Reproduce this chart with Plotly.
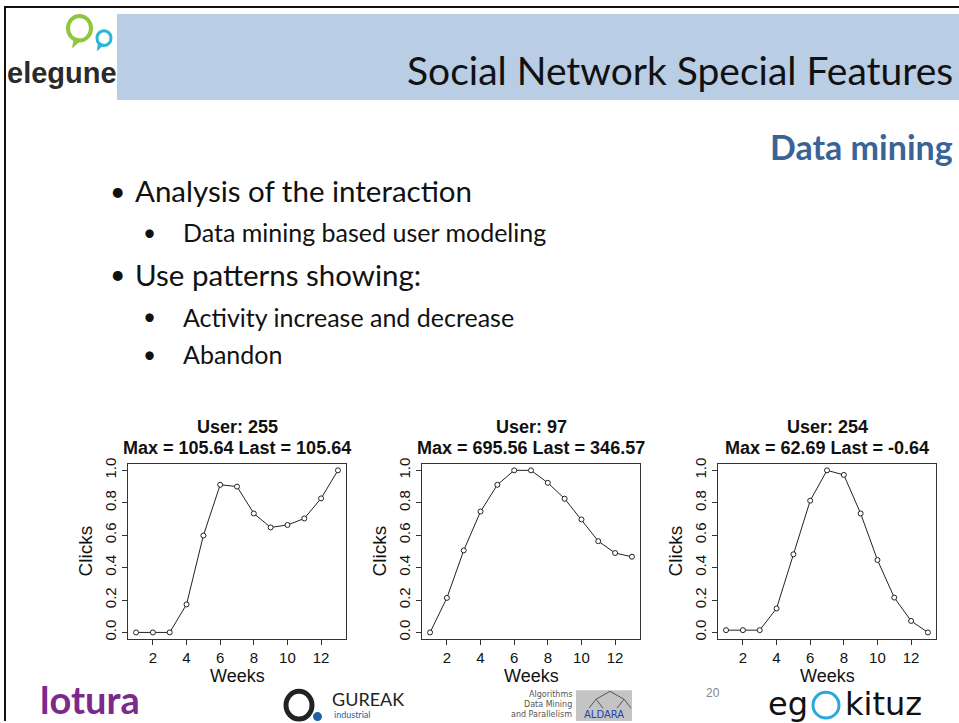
import plotly.graph_objects as go

W, H = 959, 723

# Weekly normalised click activity for three users
weeks = list(range(1, 14))
user_ids = ["255", "97", "254"]
max_values = ["105.64", "695.56", "62.69"]
last_values = ["105.64", "346.57", "-0.64"]
clicks_255 = [0.0, 0.0, 0.0, 0.173, 0.598, 0.911, 0.900, 0.734, 0.648, 0.663, 0.703, 0.827, 1.0]
clicks_97 = [0.0, 0.213, 0.506, 0.746, 0.911, 1.0, 1.0, 0.923, 0.825, 0.697, 0.563, 0.490, 0.467]
clicks_254 = [0.014, 0.014, 0.014, 0.148, 0.482, 0.813, 1.0, 0.972, 0.734, 0.447, 0.215, 0.071, 0.0]
series = [clicks_255, clicks_97, clicks_254]

x_ticks = [2, 4, 6, 8, 10, 12]
y_ticks = [0.0, 0.2, 0.4, 0.6, 0.8, 1.0]
y_tick_text = ["0.0", "0.2", "0.4", "0.6", "0.8", "1.0"]

bullets = [
    ("Analysis of the interaction", 0),
    ("Data mining based user modeling", 1),
    ("Use patterns showing:", 0),
    ("Activity increase and decrease", 1),
    ("Abandon", 1),
]


def px(x):
    return x / W


def py(y):
    return 1 - y / H


SLIDE_FONT = "Lato"
PLOT_FONT = "Liberation Sans"
INK = "#111111"

fig = go.Figure()
annotations = []
shapes = []

# frame left edges of the three panels (pixels)
frame_left = [128, 422, 718]
frame_w = 218
frame_top, frame_bottom = 463, 640

for i, (vals, left) in enumerate(zip(series, frame_left)):
    n = "" if i == 0 else str(i + 1)
    fig.add_trace(go.Scatter(
        x=weeks, y=vals, mode="lines+markers",
        line=dict(color="#222222", width=1),
        marker=dict(symbol="circle", size=5, color="white",
                    line=dict(color="#222222", width=1)),
        xaxis="x" + n, yaxis="y" + n, showlegend=False, hoverinfo="skip",
    ))
    common = dict(showgrid=False, zeroline=False, showline=True, mirror=True,
                  linecolor="#333333", linewidth=1, ticks="outside", ticklen=5,
                  tickcolor="#333333", tickwidth=1,
                  tickfont=dict(family=PLOT_FONT, size=15, color=INK))
    fig.update_layout(**{
        "xaxis" + n: dict(domain=[px(left), px(left + frame_w)], range=[0.52, 13.48],
                          tickvals=x_ticks, anchor="y" + n, **common),
        "yaxis" + n: dict(domain=[py(frame_bottom), py(frame_top)], range=[-0.04, 1.04],
                          tickvals=y_ticks, ticktext=y_tick_text, tickangle=-90,
                          anchor="x" + n, **common),
    })
    cx = left + frame_w / 2
    annotations += [
        dict(x=px(cx), y=py(426), text="<b>User: %s</b>" % user_ids[i],
             font=dict(family=PLOT_FONT, size=18, color=INK)),
        dict(x=px(cx), y=py(447),
             text="<b>Max = %s Last = %s</b>" % (max_values[i], last_values[i]),
             font=dict(family=PLOT_FONT, size=18, color=INK)),
        dict(x=px(cx), y=py(678), text="Weeks",
             font=dict(family=PLOT_FONT, size=18, color=INK)),
        dict(x=px(left - 43), y=py((frame_top + frame_bottom) / 2), text="Clicks",
             textangle=-90, font=dict(family=PLOT_FONT, size=19, color=INK)),
    ]

# slide header band and border
shapes += [
    dict(type="rect", xref="paper", yref="paper", x0=px(117), x1=px(959), y0=py(95), y1=py(8),
         fillcolor="#B9CDE5", line=dict(width=0), layer="below"),
    dict(type="line", xref="paper", yref="paper", x0=px(5), x1=px(5), y0=0, y1=1,
         line=dict(color=INK, width=2)),
    dict(type="line", xref="paper", yref="paper", x0=px(5), x1=1, y0=py(1), y1=py(1),
         line=dict(color=INK, width=2)),
]
annotations += [
    dict(x=px(955), y=py(65), xanchor="right", text="Social Network Special Features",
         font=dict(family=SLIDE_FONT, size=39, color=INK)),
    dict(x=px(955), y=py(142), xanchor="right", text="<b>Data mining</b>",
         font=dict(family=SLIDE_FONT, size=34, color="#3A6496")),
]

# bullet list
bullet_y = [187, 229, 271, 314, 352]
for (txt, lvl), yy in zip(bullets, bullet_y):
    size = 29.5 if lvl == 0 else 25
    annotations += [
        dict(x=px(117 if lvl == 0 else 149), y=py(yy), xanchor="center", text="•",
             font=dict(family=SLIDE_FONT, size=size * 0.9, color=INK)),
        dict(x=px(133 if lvl == 0 else 181), y=py(yy), xanchor="left", text=txt,
             font=dict(family=SLIDE_FONT, size=size, color=INK)),
    ]

# logos
annotations += [
    dict(x=px(5), y=py(68), xanchor="left", text="<b>elegune</b>",
         font=dict(family="Liberation Sans", size=29, color="#2A2A2A")),
    dict(x=px(38), y=py(701), xanchor="left", text="<b>lotura</b>",
         font=dict(family="Lato", size=38, color="#7B2A8C")),
    dict(x=px(330), y=py(701), xanchor="left", text="GUREAK",
         font=dict(family="Lato", size=18, color="#222222")),
    dict(x=px(332), y=py(716), xanchor="left", text="industrial",
         font=dict(family="Lato", size=9, color="#1F5FA8")),
    dict(x=px(574), y=py(696), xanchor="right", text="Algorithms",
         font=dict(family="DejaVu Sans", size=8, color="#555555")),
    dict(x=px(574), y=py(706), xanchor="right", text="Data Mining",
         font=dict(family="DejaVu Sans", size=8, color="#555555")),
    dict(x=px(574), y=py(716), xanchor="right", text="and Parallelism",
         font=dict(family="DejaVu Sans", size=8, color="#555555")),
    dict(x=px(604), y=py(716), text="ALDARA",
         font=dict(family="DejaVu Sans", size=10, color="#2244AA")),
    dict(x=px(713), y=py(695), text="20",
         font=dict(family="Liberation Sans", size=12, color="#888888")),
    dict(x=px(766), y=py(706), xanchor="left", text="eg",
         font=dict(family="DejaVu Sans", size=32, color=INK)),
    dict(x=px(843), y=py(706), xanchor="left", text="kituz",
         font=dict(family="DejaVu Sans", size=32, color=INK)),
]
shapes += [
    # speech bubbles of the elegune logo
    dict(type="circle", xref="paper", yref="paper", x0=px(68), x1=px(91), y0=py(35), y1=py(10),
         line=dict(color="#8DC63F", width=4)),
    dict(type="path", xref="paper", yref="paper",
         path="M %f,%f L %f,%f L %f,%f Z" % (px(74), py(31), px(72), py(43), px(82), py(34)),
         fillcolor="#8DC63F", line=dict(width=0)),
    dict(type="circle", xref="paper", yref="paper", x0=px(97), x1=px(111), y0=py(40), y1=py(25),
         line=dict(color="#2BB5D6", width=3)),
    dict(type="path", xref="paper", yref="paper",
         path="M %f,%f L %f,%f L %f,%f Z" % (px(98), py(36), px(97), py(46), px(104), py(39)),
         fillcolor="#2BB5D6", line=dict(width=0)),
    # gureak ring and dot
    dict(type="circle", xref="paper", yref="paper", x0=px(286), x1=px(312), y0=py(721), y1=py(693),
         line=dict(color="#222222", width=5)),
    dict(type="circle", xref="paper", yref="paper", x0=px(313), x1=px(322), y0=py(723), y1=py(714),
         fillcolor="#1F5FA8", line=dict(width=0)),
    # aldara tree panel
    dict(type="rect", xref="paper", yref="paper", x0=px(576), x1=px(632), y0=0, y1=py(692),
         fillcolor="#C4C4C4", line=dict(width=0), layer="below"),
    # egokituz wheel
    dict(type="circle", xref="paper", yref="paper", x0=px(813), x1=px(839), y0=py(720), y1=py(694),
         line=dict(color="#2BA6DE", width=3)),
]

# small tree inside the aldara panel
tree_edges = [((610, 693), (596, 701)), ((610, 693), (624, 701)),
              ((596, 701), (589, 710)), ((596, 701), (603, 710)),
              ((624, 701), (617, 710)), ((624, 701), (631, 710))]
for (x0, y0), (x1, y1) in tree_edges:
    shapes.append(dict(type="line", xref="paper", yref="paper",
                       x0=px(x0), y0=py(y0), x1=px(x1), y1=py(y1),
                       line=dict(color="#555555", width=1)))

fig.update_layout(
    width=W, height=H, margin=dict(l=0, r=0, t=0, b=0),
    paper_bgcolor="white", plot_bgcolor="white",
    annotations=[dict(a, xref="paper", yref="paper", showarrow=False,
                      **({} if "xanchor" in a else {"xanchor": "center"}),
                      yanchor="middle") for a in annotations],
    shapes=shapes,
)

fig.write_html("out.html")
